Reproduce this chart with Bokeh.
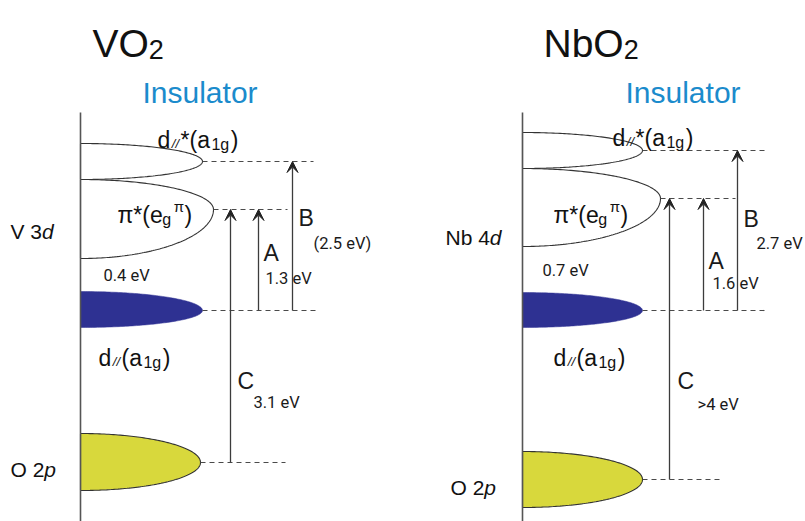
import numpy as np
from bokeh.plotting import figure
from bokeh.models import Range1d, ColumnDataSource, Arrow, VeeHead
from bokeh.core.properties import value
from bokeh.embed import file_html
from bokeh.resources import INLINE

# ---------------- data ----------------
materials = ["VO2", "NbO2"]
title_main = ["VO", "NbO"]
title_sub = ["2", "2"]
phase = ["Insulator", "Insulator"]
metal_label = ["V 3", "Nb 4"]
oxygen_label = ["O 2", "O 2"]

# bands (diagram units, y grows downward): d//*(a1g), pi*(eg), d//(a1g), O 2p
band_kind = ["dstar", "pistar", "dpar", "o2p"]
band_top = {"VO2": [143, 179, 291, 433], "NbO2": [132, 168, 292, 451]}
band_level = {"VO2": [161, 209, 310, 462], "NbO2": [150, 198, 310, 479]}
band_bottom = {"VO2": [179, 258, 327, 490], "NbO2": [168, 246, 327, 507]}
band_extent = {"VO2": [202, 213, 202, 200], "NbO2": [642, 660, 642, 642]}

# optical transitions A, B, C : (from band index, to band index)
trans_name = ["A", "B", "C"]
trans_from = [2, 2, 3]
trans_to = [1, 0, 1]
trans_energy = {"VO2": ["1.3 eV", "(2.5 eV)", "3.1 eV"],
                "NbO2": ["1.6 eV", "2.7 eV", ">4 eV"]}
gap_energy = {"VO2": "0.4 eV", "NbO2": "0.7 eV"}

# ---------------- layout ----------------
axis_x = {"VO2": 80, "NbO2": 522}
axis_top = 112
axis_bottom = 521
dash_end = {"VO2": [313, 287, 318, 285], "NbO2": [768, 735, 765, 723]}
trans_x = {"VO2": [258, 292, 230], "NbO2": [703, 737, 669]}
letter_pos = {"VO2": [(263, 252), (298, 217), (237, 380)],
              "NbO2": [(708, 260), (743, 218), (677, 380)]}
energy_pos = {"VO2": [(265, 278), (313, 243), (253, 402)],
              "NbO2": [(712, 283), (756, 243), (697, 404)]}
gap_pos = {"VO2": (103, 275), "NbO2": (542, 270)}
title_pos = {"VO2": (92, 43), "NbO2": (543, 43)}
phase_pos = {"VO2": (142, 92), "NbO2": (625, 92)}
metal_pos = {"VO2": (10, 231), "NbO2": (445, 237)}
oxy_pos = {"VO2": (10, 469), "NbO2": (450, 487)}
dstar_pos = {"VO2": (157, 139), "NbO2": (612, 137)}
pistar_pos = {"VO2": (117, 214), "NbO2": (553, 214)}
dpar_pos = {"VO2": (98, 357), "NbO2": (553, 357)}

band_fill = ["white", "white", "#2e3192", "#d8d83c"]
band_line = ["#333333", "#333333", None, "#333333"]
LINE = "#3c3c3c"
FONT = "Liberation Sans"
SMALL = "Roboto"

# Arial / Liberation Sans advance widths (em)
W = {'d': .556, '/': .278, '*': .389, '(': .333, ')': .333, 'a': .556, '1': .556,
     'g': .556, 'e': .556, 'π': .56, ' ': .278, 'V': .667, 'O': .778, 'N': .722,
     'b': .556, '2': .556, '3': .556, '4': .556, 'p': .556}


def runs_to_rows(x0, yb, runs, gap=0.0):
    rows = []
    x = x0
    for txt, size, dy, style in runs:
        rows.append((x, yb + dy, txt, f"{size}px", style))
        x += sum(W.get(c, .556) for c in txt) * size + gap
    return rows


p = figure(width=805, height=521, output_backend="svg", toolbar_location=None,
           x_range=Range1d(0, 805), y_range=Range1d(521, 0),
           x_axis_type=None, y_axis_type=None, min_border=0,
           outline_line_color=None, background_fill_color="white")
p.grid.visible = False


def band_shape(ax, top, tipx, tipy, bottom, n=80):
    t = np.linspace(0, np.pi / 2, n)
    xt = ax + (tipx - ax) * np.sin(t)
    yt = tipy - (tipy - top) * np.cos(t)
    tb = t[::-1]
    xb = ax + (tipx - ax) * np.sin(tb)
    yb = tipy + (bottom - tipy) * np.cos(tb)
    return list(np.concatenate([xt, xb])), list(np.concatenate([yt, yb]))


rows = []
for m_i, m in enumerate(materials):
    ax = axis_x[m]
    for k in [1, 0, 2, 3]:
        xs, ys = band_shape(ax, band_top[m][k], band_extent[m][k],
                            band_level[m][k], band_bottom[m][k])
        if band_line[k] is None:
            p.patch(xs, ys, fill_color=band_fill[k], line_color=band_fill[k], line_width=0.5)
        else:
            p.patch(xs, ys, fill_color=band_fill[k], line_color=band_line[k], line_width=1.1)
    p.segment(x0=[ax], y0=[axis_top], x1=[ax], y1=[axis_bottom], line_color="#555555", line_width=1.6)
    p.segment(x0=band_extent[m], y0=band_level[m], x1=dash_end[m], y1=band_level[m],
              line_color="#4a4a4a", line_width=1.1, line_dash="5 4")
    src = ColumnDataSource(dict(
        xs=trans_x[m], ys=[band_level[m][f] for f in trans_from],
        xe=trans_x[m], ye=[band_level[m][t] for t in trans_to]))
    p.add_layout(Arrow(x_start="xs", y_start="ys", x_end="xe", y_end="ye", source=src,
                       line_color=LINE, line_width=1.3,
                       end=VeeHead(size=11, fill_color="#222222", line_color="#222222", line_width=1)))
    p.text(x=[q[0] for q in letter_pos[m]], y=[q[1] for q in letter_pos[m]], text=trans_name,
           text_font=value(FONT), text_font_size="23px", text_color="#1a1a1a",
           text_baseline="middle", text_align="left")
    p.text(x=[q[0] for q in energy_pos[m]], y=[q[1] for q in energy_pos[m]], text=trans_energy[m],
           text_font=value(SMALL), text_font_size="16.5px", text_color="#1a1a1a",
           text_baseline="middle", text_align="left")
    p.text(x=[gap_pos[m][0]], y=[gap_pos[m][1]], text=[gap_energy[m]],
           text_font=value(SMALL), text_font_size="16.5px", text_color="#1a1a1a",
           text_baseline="middle", text_align="left")
    rows += runs_to_rows(*title_pos[m], [(title_main[m_i], 39, 0, "normal"), (title_sub[m_i], 27, 6, "normal")])
    rows += runs_to_rows(*metal_pos[m], [(metal_label[m_i], 21, 0, "normal"), ("d", 21, 0, "italic")])
    rows += runs_to_rows(*oxy_pos[m], [(oxygen_label[m_i], 21, 0, "normal"), ("p", 21, 0, "italic")])
    rows += runs_to_rows(*dstar_pos[m], [("d", 23, 0, "normal"), ("//", 13, 4, "italic"),
                                         ("*(a", 23, 0, "normal"), ("1g", 16, 5, "normal"),
                                         (")", 23, 0, "normal")], gap=1.5)
    rows += runs_to_rows(*pistar_pos[m], [("π*(e", 23, 0, "normal"), ("g", 16, 5, "normal"),
                                          ("π", 15, -8, "normal"), (")", 23, 0, "normal")], gap=2.5)
    rows += runs_to_rows(*dpar_pos[m], [("d", 23, 0, "normal"), ("//", 13, 4, "italic"),
                                        ("(a", 23, 0, "normal"), ("1g", 16, 5, "normal"),
                                        (")", 23, 0, "normal")], gap=1.5)
    p.text(x=[phase_pos[m][0]], y=[phase_pos[m][1]], text=[phase[m_i]],
           text_font=value(FONT), text_font_size="30px", text_color="#1b8bcc",
           text_baseline="alphabetic", text_align="left")

tsrc = ColumnDataSource(dict(x=[r[0] for r in rows], y=[r[1] for r in rows],
                             text=[r[2] for r in rows], size=[r[3] for r in rows],
                             style=[r[4] for r in rows]))
p.text(x="x", y="y", text="text", source=tsrc, text_font=value(FONT),
       text_font_size="size", text_font_style="style", text_color="#111111",
       text_baseline="alphabetic", text_align="left")

open("out.html", "w").write(file_html(p, INLINE))
